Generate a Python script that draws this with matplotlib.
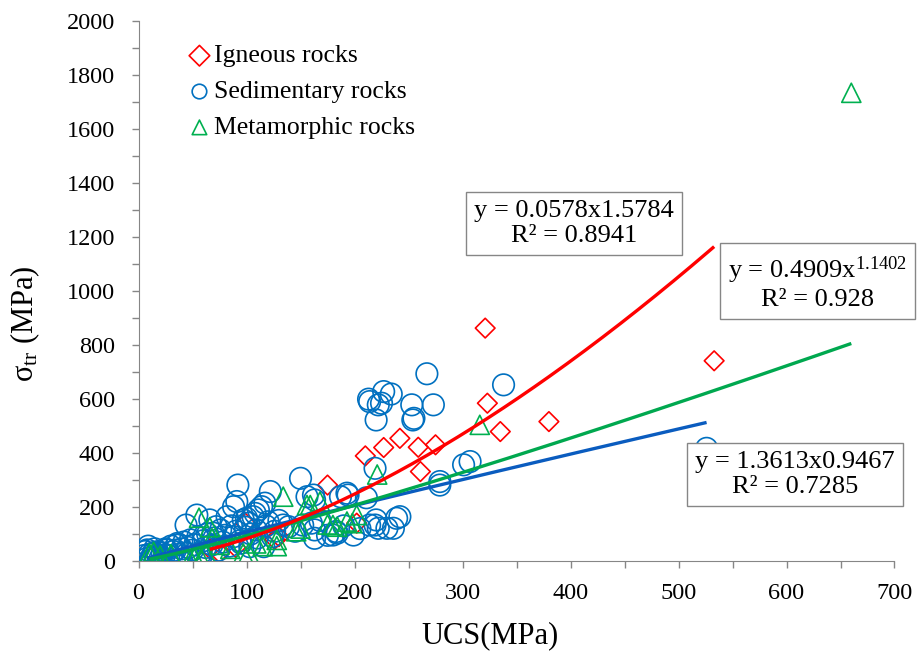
import numpy as np
import matplotlib
matplotlib.use("Agg")
import matplotlib.pyplot as plt
from matplotlib.ticker import MultipleLocator

plt.rcParams["font.family"] = ["Liberation Serif", "DejaVu Serif"]
plt.rcParams["mathtext.fontset"] = "custom"
plt.rcParams["mathtext.rm"] = "Liberation Serif"
plt.rcParams["mathtext.it"] = "Liberation Serif:italic"

# UCS (MPa) vs triaxial strength (MPa) by rock type
igneous_ucs = [66, 75, 90, 99, 126, 130, 175, 202, 210, 227, 242, 259, 261, 275,
               321, 323, 335, 380, 533]
igneous_str = [45, 30, 50, 140, 80, 90, 281, 140, 389, 420, 454, 421, 331, 430,
               862, 584, 479, 516, 741]

sedimentary_ucs = [5, 6, 8, 8, 10, 12, 14, 15, 17, 18, 20, 22, 25, 26, 28, 30, 32,
                   35, 38, 40, 42, 44, 46, 48, 50, 52, 54, 55, 58, 60, 62, 64, 66,
                   68, 69, 70, 72, 74, 76, 78, 80, 82, 84, 86, 88, 88, 90, 91, 92,
                   94, 95, 97, 99, 100, 102, 103, 104, 106, 108, 109, 110, 111, 114,
                   116, 117, 118, 120, 122, 124, 126, 130, 134, 139, 145, 150, 152,
                   156, 160, 162, 163, 163, 163, 168, 175, 180, 183, 184, 187, 190,
                   193, 194, 199, 205, 211, 213, 214, 214, 219, 219, 220, 220, 222,
                   222, 225, 227, 230, 234, 236, 239, 242, 253, 254, 255, 267, 273,
                   279, 279, 301, 307, 338, 526, 12, 16, 24, 34, 9, 45, 58, 36]
sedimentary_str = [20, 35, 10, 41, 25, 15, 30, 45, 34, 20, 10, 30, 45, 41, 20, 55, 35,
                   59, 25, 45, 70, 133, 50, 78, 40, 60, 170, 90, 30, 75, 50, 100, 152,
                   60, 103, 85, 127, 40, 115, 70, 95, 164, 55, 130, 201, 90, 110, 220,
                   281, 75, 66, 152, 125, 158, 140, 53, 100, 164, 176, 115, 85, 189, 201,
                   53, 214, 130, 145, 257, 90, 110, 150, 133, 127, 110, 306, 133,
                   238, 140, 244, 226, 115, 84, 150, 95, 96, 109, 103, 238, 130,
                   251, 244, 96, 120, 234, 599, 133, 590, 343, 133, 152, 522, 121,
                   578, 584, 627, 121, 618, 121, 158, 164, 578, 522, 528, 693, 578,
                   294, 281, 356, 368, 652, 417, 5, 12, 22, 40, 55, 28, 18, 65]

metamorphic_ucs = [10, 14, 20, 30, 48, 52, 56, 58, 62, 66, 68, 75, 85, 97, 102, 109,
                   115, 128, 128, 134, 146, 150, 156, 159, 168, 175, 180, 184, 193,
                   198, 202, 221, 316, 660]
metamorphic_str = [28, 34, 20, 25, 5, 12, 160, 8, 30, 125, 84, 60, 45, 28, 30, 65,
                   55, 55, 78, 238, 110, 120, 207, 207, 220, 135, 133, 127, 146,
                   140, 170, 320, 504, 1733]

# power-law fits y = a * x^b and their UCS ranges
fit_red = (0.0578, 1.5784, 66, 533)
fit_blue = (1.3613, 0.9467, 8, 526)
fit_green = (0.4909, 1.1402, 10, 660)

RED = "#FF0000"
BLUE = "#0070C0"
GREEN = "#00B050"
GRID = "#868686"

fig = plt.figure(figsize=(9.18, 6.52), dpi=100)
ax = fig.add_axes([0.1509, 0.1396, 0.8235, 0.8287])

ax.scatter(igneous_ucs, igneous_str, marker="D", s=100, facecolors="none",
           edgecolors=RED, linewidths=1.2, label="Igneous rocks", zorder=3)
ax.scatter(sedimentary_ucs, sedimentary_str, marker="o", s=240, facecolors="none",
           edgecolors=BLUE, linewidths=1.2, label="Sedimentary rocks", zorder=3)
ax.scatter(metamorphic_ucs, metamorphic_str, marker="^", s=190, facecolors="none",
           edgecolors=GREEN, linewidths=1.2, label="Metamorphic rocks", zorder=3)

for (a, b, x0, x1), c in [(fit_blue, "#0A5CBF"), (fit_green, "#00A84F"), (fit_red, RED)]:
    xs = np.linspace(x0, x1, 200)
    ax.plot(xs, a * xs ** b, color=c, lw=2.4, zorder=4, solid_capstyle="butt")

box = dict(boxstyle="square,pad=0.3", fc="white", ec=GRID, lw=1)
ax.text(403, 1250, "y = 0.0578x1.5784\nR² = 0.8941", ha="center", va="center",
        fontsize=19, bbox=box, zorder=5, linespacing=1.2)
ax.text(629, 1030, "y = 0.4909x$^{\\mathregular{1.1402}}$\nR² = 0.928", ha="center",
        va="center", fontsize=19, bbox=box, zorder=5, linespacing=1.2, clip_on=False)
ax.text(608, 320, "y = 1.3613x0.9467\nR² = 0.7285", ha="center", va="center",
        fontsize=19, bbox=box, zorder=5, linespacing=1.2)

ax.set_xlim(0, 700)
ax.set_ylim(0, 2000)
ax.xaxis.set_major_locator(MultipleLocator(100))
ax.xaxis.set_minor_locator(MultipleLocator(50))
ax.yaxis.set_major_locator(MultipleLocator(200))
ax.yaxis.set_minor_locator(MultipleLocator(100))
ax.tick_params(which="both", direction="out", color=GRID, width=1, length=5,
               labelsize=17.5, pad=12)
ax.tick_params(axis="x", which="both", pad=11)
for side in ("top", "right"):
    ax.spines[side].set_visible(False)
for side in ("left", "bottom"):
    ax.spines[side].set_color(GRID)

ax.set_xlabel("UCS(MPa)", fontsize=22)
ax.xaxis.set_label_coords(0.465, -0.112)
ax.set_ylabel("σ$_{\\mathregular{tr}}$ (MPa)", fontsize=22)
ax.yaxis.set_label_coords(-0.128, 0.44)

leg = ax.legend(loc="upper left", bbox_to_anchor=(0.05, 0.975), frameon=False,
                fontsize=18.5, handletextpad=0.05, labelspacing=0.5, borderaxespad=0,
                scatterpoints=1, handlelength=1.0)
for h in leg.legend_handles:
    h.set_sizes([110])

fig.savefig("out.png", dpi=100)
